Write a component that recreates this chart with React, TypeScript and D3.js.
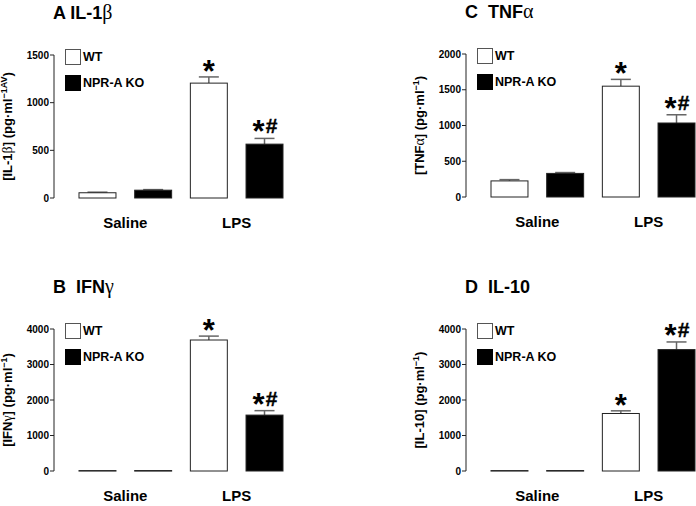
import React from 'react'
import * as d3 from 'd3'

const bars = ['WT Saline', 'KO Saline', 'WT LPS', 'KO LPS']
const groups = ['Saline', 'LPS']
const legendLabels = ['WT', 'NPR-A KO']
const marks = ['', '', '*', '*#']

const il1bMeans = [55, 82, 1205, 565]
const il1bErrs = [6, 6, 65, 60]
const tnfMeans = [225, 330, 1550, 1035]
const tnfErrs = [18, 12, 95, 115]
const ifnMeans = [12, 12, 3690, 1575]
const ifnErrs = [0, 0, 110, 125]
const il10Means = [12, 12, 1620, 3420]
const il10Errs = [0, 0, 75, 215]

const ticks1500 = [0, 500, 1000, 1500]
const ticks2000 = [0, 500, 1000, 1500, 2000]
const ticks4000 = [0, 1000, 2000, 3000, 4000]

const FONT = 'Arial, "Liberation Sans", Helvetica, sans-serif'
const GREEK = '"Liberation Serif", "Times New Roman", serif'

function Panel(props) {
  const { x0, top, bottom, max, ticks, means, errs, title, greek, label, labelGreek, labelRest, sup } = props
  const y = d3.scaleLinear().domain([0, max]).range([bottom, top])
  const x = d3.scaleBand().domain(bars).range([x0 + 25, x0 + 229]).paddingInner(0.336).paddingOuter(0)
  const bw = x.bandwidth()
  const isWT = (i) => i % 2 === 0

  return (
    <g>
      <text x={x0 - 1} y={top - 36} fontFamily={FONT} fontWeight="bold" fontSize={18}>
        {title}
        {greek && <tspan fontFamily={GREEK} fontWeight="normal" fontSize={20}>{greek}</tspan>}
      </text>

      {/* y axis */}
      <line x1={x0} x2={x0} y1={top} y2={bottom} stroke="#222" strokeWidth={1} />
      {ticks.map(t => (
        <g key={t}>
          <line x1={x0 - 4} x2={x0} y1={y(t)} y2={y(t)} stroke="#222" />
          <text x={x0 - 5} y={y(t)} dy="0.35em" textAnchor="end" fontFamily={FONT}
            fontWeight="bold" fontSize={10}>{t}</text>
        </g>
      ))}

      <text transform={`translate(${x0 - 42},${(top + bottom) / 2}) rotate(-90)`} textAnchor="middle"
        fontFamily={FONT} fontWeight="bold" fontSize={13}>
        {label}
        {labelGreek && <tspan fontFamily={GREEK} fontWeight="normal" fontSize={14}>{labelGreek}</tspan>}
        {labelRest}
        <tspan dy={-5} fontSize={9}>{sup}</tspan>
        <tspan dy={5}>)</tspan>
      </text>

      {/* bars */}
      {bars.map((b, i) => {
        const bx = x(b)
        const cx = bx + bw / 2
        const yTop = y(means[i])
        const yErr = y(means[i] + errs[i])
        return (
          <g key={b}>
            {errs[i] > 0 && (
              <g stroke="#666" strokeWidth={1.5}>
                <line x1={cx} x2={cx} y1={yTop} y2={yErr} />
                <line x1={cx - 10} x2={cx + 10} y1={yErr} y2={yErr} />
              </g>
            )}
            <rect x={bx} y={yTop} width={bw} height={Math.max(bottom - yTop, 0.5)}
              fill={isWT(i) ? '#fff' : '#000'} stroke="#222" strokeWidth={1} />
            {marks[i] === '*' && (
              <text x={cx} y={yErr + 5} textAnchor="middle" fontFamily={FONT} fontWeight="bold" fontSize={31}>*</text>
            )}
            {marks[i] === '*#' && (
              <g>
                <text x={cx - 6} y={yErr + 4} textAnchor="middle" fontFamily={FONT} fontWeight="bold" fontSize={31}>*</text>
                <text x={cx + 7} y={yErr - 5} textAnchor="middle" fontFamily={FONT} fontWeight="bold" fontSize={21}
                  stroke="#000" strokeWidth={0.4}>#</text>
              </g>
            )}
          </g>
        )
      })}

      {/* legend */}
      {legendLabels.map((l, i) => (
        <g key={l}>
          <rect x={x0 + 11.5} y={top - 5.5 + i * 26} width={15} height={15}
            fill={i === 0 ? '#fff' : '#000'} stroke={i === 0 ? '#555' : '#000'} strokeWidth={1} />
          <text x={x0 + 29} y={top + 2 + i * 26} dy="0.35em" fontFamily={FONT} fontWeight="bold" fontSize={12.5}>{l}</text>
        </g>
      ))}

      {/* group labels */}
      {groups.map((g, gi) => {
        const cx = (x(bars[gi * 2]) + x(bars[gi * 2 + 1]) + bw) / 2
        return (
          <text key={g} x={cx} y={bottom + 30} textAnchor="middle" fontFamily={FONT}
            fontWeight="bold" fontSize={15}>{g}</text>
        )
      })}
    </g>
  )
}

export default function App() {
  return (
    <div style={{ position: 'absolute', left: 0, top: 0 }}>
      <svg width={696} height={506} style={{ display: 'block', background: '#fff' }}>
        <Panel x0={54} top={55} bottom={198} max={1500} ticks={ticks1500}
          means={il1bMeans} errs={il1bErrs} title="A IL-1" greek="β"
          label="[IL-1" labelGreek="β" labelRest="] (pg·ml" sup="−1AV" />
        <Panel x0={466} top={54} bottom={197} max={2000} ticks={ticks2000}
          means={tnfMeans} errs={tnfErrs} title={'C\u00a0\u00a0TNF'} greek="α"
          label="[TNF" labelGreek="α" labelRest="] (pg·ml" sup="−1" />
        <Panel x0={54} top={329} bottom={471} max={4000} ticks={ticks4000}
          means={ifnMeans} errs={ifnErrs} title={'B\u00a0\u00a0IFN'} greek="γ"
          label="[IFN" labelGreek="γ" labelRest="] (pg·ml" sup="−1" />
        <Panel x0={466} top={329} bottom={471} max={4000} ticks={ticks4000}
          means={il10Means} errs={il10Errs} title={'D\u00a0\u00a0IL-10'} greek=""
          label="[IL-10] (pg·ml" labelGreek="" labelRest="" sup="−1" />
      </svg>
    </div>
  )
}
